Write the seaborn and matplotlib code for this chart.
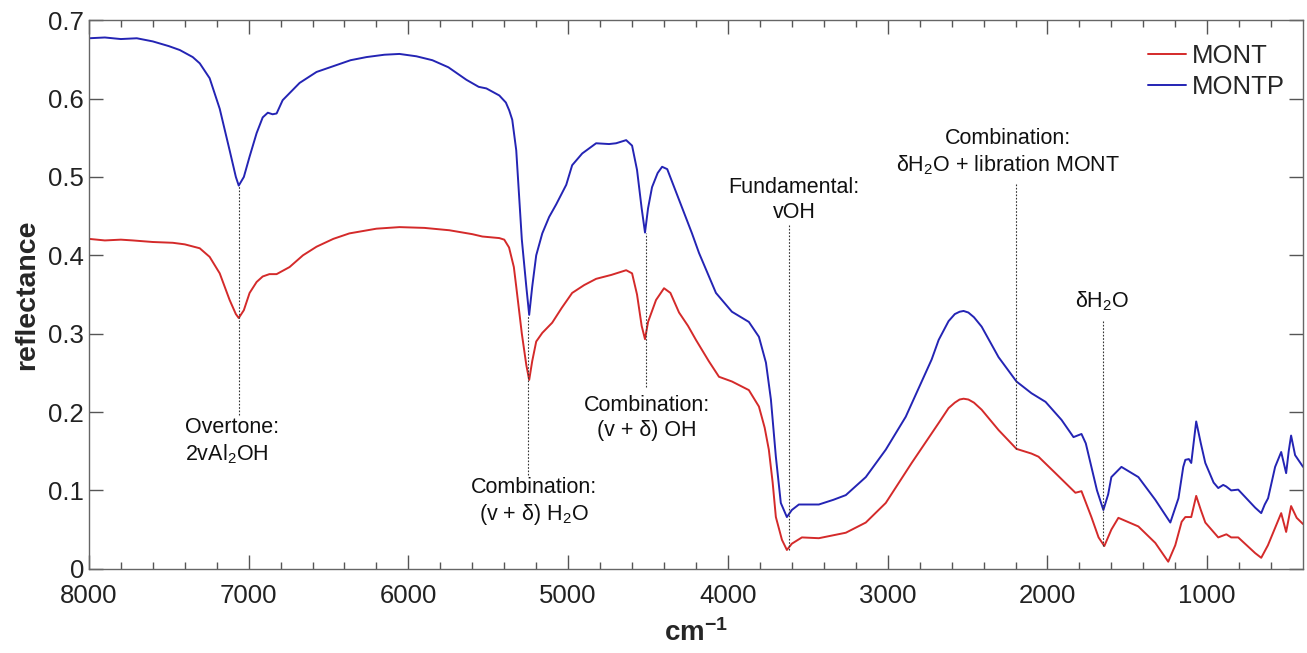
import numpy as np
import pandas as pd
import matplotlib
matplotlib.use("Agg")
import matplotlib.pyplot as plt
import seaborn as sns

# MONTP (blue) spectrum
montp_wn = [8000, 7900, 7800, 7700, 7600, 7500, 7431, 7350, 7306, 7244, 7181, 7119, 7080, 7062,
            7030, 6994, 6950, 6912, 6880, 6850, 6825, 6787, 6681, 6575, 6475, 6362, 6262, 6150,
            6056, 5950, 5850, 5750, 5637, 5560, 5512, 5431, 5390, 5369, 5350, 5325, 5290, 5262,
            5244, 5225, 5200, 5162, 5119, 5075, 5012, 4975, 4912, 4825, 4744, 4700, 4637, 4600,
            4569, 4540, 4519, 4500, 4475, 4440, 4412, 4380, 4306, 4225, 4181, 4075, 3975, 3869,
            3806, 3762, 3731, 3700, 3669, 3631, 3600, 3556, 3431, 3340, 3262, 3137, 3012, 2887,
            2725, 2681, 2619, 2580, 2550, 2525, 2495, 2460, 2412, 2306, 2194, 2100, 2012, 1912,
            1837, 1787, 1760, 1725, 1690, 1650, 1620, 1600, 1537, 1431, 1325, 1231, 1180, 1150,
            1137, 1115, 1100, 1069, 1040, 1012, 960, 931, 900, 881, 850, 806, 700, 662, 640, 619,
            575, 537, 506, 490, 475, 450, 400]
montp_r = [0.677, 0.678, 0.676, 0.677, 0.673, 0.667, 0.662, 0.653, 0.645, 0.626, 0.587, 0.534,
           0.500, 0.489, 0.500, 0.526, 0.556, 0.576, 0.582, 0.580, 0.581, 0.598, 0.620, 0.634,
           0.641, 0.649, 0.653, 0.656, 0.657, 0.654, 0.649, 0.640, 0.624, 0.615, 0.613, 0.604,
           0.595, 0.585, 0.573, 0.534, 0.420, 0.360, 0.324, 0.360, 0.400, 0.428, 0.449, 0.465,
           0.490, 0.515, 0.530, 0.543, 0.542, 0.543, 0.547, 0.540, 0.509, 0.460, 0.429, 0.460,
           0.487, 0.505, 0.513, 0.510, 0.471, 0.428, 0.403, 0.352, 0.328, 0.315, 0.296, 0.263,
           0.216, 0.143, 0.084, 0.066, 0.075, 0.082, 0.082, 0.088, 0.094, 0.117, 0.152, 0.194,
           0.267, 0.292, 0.316, 0.325, 0.328, 0.329, 0.327, 0.321, 0.309, 0.270, 0.239, 0.224,
           0.213, 0.190, 0.168, 0.172, 0.160, 0.130, 0.100, 0.075, 0.095, 0.117, 0.130, 0.117,
           0.088, 0.059, 0.090, 0.130, 0.139, 0.140, 0.135, 0.188, 0.160, 0.135, 0.110, 0.103,
           0.107, 0.105, 0.100, 0.101, 0.078, 0.071, 0.082, 0.090, 0.130, 0.149, 0.122, 0.150,
           0.170, 0.145, 0.130]

# MONT (red) spectrum
mont_wn = [8000, 7900, 7800, 7725, 7600, 7475, 7400, 7306, 7244, 7181, 7119, 7080, 7062, 7030,
           6994, 6950, 6912, 6870, 6825, 6744, 6660, 6575, 6470, 6369, 6200, 6056, 5900, 5744,
           5600, 5537, 5431, 5400, 5370, 5340, 5325, 5290, 5262, 5244, 5225, 5200, 5162, 5100,
           5040, 4975, 4900, 4825, 4730, 4637, 4600, 4569, 4540, 4519, 4500, 4450, 4400, 4360,
           4306, 4250, 4200, 4120, 4056, 3975, 3869, 3806, 3770, 3744, 3720, 3700, 3662, 3631,
           3600, 3537, 3431, 3262, 3137, 3012, 2850, 2681, 2619, 2580, 2550, 2525, 2495, 2460,
           2412, 2306, 2194, 2100, 2056, 1950, 1825, 1787, 1725, 1680, 1644, 1600, 1556, 1431,
           1325, 1244, 1200, 1160, 1137, 1100, 1069, 1040, 1012, 931, 880, 850, 806, 700, 662,
           620, 537, 506, 475, 440, 400]
mont_r = [0.421, 0.419, 0.420, 0.419, 0.417, 0.416, 0.414, 0.409, 0.398, 0.377, 0.343, 0.325,
          0.320, 0.330, 0.352, 0.366, 0.373, 0.376, 0.376, 0.385, 0.400, 0.411, 0.421, 0.428,
          0.434, 0.436, 0.435, 0.432, 0.427, 0.424, 0.422, 0.420, 0.410, 0.385, 0.360, 0.300,
          0.260, 0.241, 0.265, 0.290, 0.301, 0.314, 0.333, 0.352, 0.362, 0.370, 0.375, 0.381,
          0.377, 0.350, 0.310, 0.293, 0.315, 0.343, 0.358, 0.352, 0.327, 0.310, 0.292, 0.265,
          0.245, 0.239, 0.228, 0.207, 0.180, 0.152, 0.110, 0.066, 0.037, 0.024, 0.032, 0.040,
          0.039, 0.046, 0.059, 0.084, 0.135, 0.186, 0.205, 0.212, 0.216, 0.217, 0.216, 0.212,
          0.203, 0.177, 0.153, 0.147, 0.143, 0.122, 0.097, 0.099, 0.066, 0.040, 0.029, 0.050,
          0.065, 0.054, 0.033, 0.009, 0.030, 0.060, 0.066, 0.066, 0.093, 0.075, 0.059, 0.040,
          0.044, 0.040, 0.040, 0.020, 0.014, 0.030, 0.071, 0.047, 0.080, 0.065, 0.057]

# band annotations: label, text x, text y, line x, line bottom, line top, alignment
ann_labels = ["Overtone:\n2vAl$_2$OH",
              "Combination:\n(v + δ) H$_2$O",
              "Combination:\n(v + δ) OH",
              "Fundamental:\nvOH",
              "Combination:\nδH$_2$O + libration MONT",
              "δH$_2$O"]
ann_tx = [7400, 5212, 4506, 3587, 2244, 1656]
ann_ty = [0.162, 0.085, 0.193, 0.471, 0.531, 0.341]
ann_lx = [7062, 5250, 4515, 3620, 2200, 1650]
ann_y0 = [0.196, 0.120, 0.232, 0.024, 0.153, 0.029]
ann_y1 = [0.489, 0.324, 0.429, 0.440, 0.491, 0.318]
ann_ha = ["left", "center", "center", "center", "center", "center"]

df = pd.concat([
    pd.DataFrame({"wn": mont_wn, "r": mont_r, "sample": "MONT"}),
    pd.DataFrame({"wn": montp_wn, "r": montp_r, "sample": "MONTP"}),
])

sns.set_style("ticks")
plt.rcParams["font.family"] = ["Liberation Sans", "DejaVu Sans"]
plt.rcParams["mathtext.fontset"] = "custom"
plt.rcParams["mathtext.rm"] = "Liberation Sans"
plt.rcParams["mathtext.it"] = "Liberation Sans:italic"
plt.rcParams["mathtext.bf"] = "Liberation Sans:bold"

fig = plt.figure(figsize=(13.07, 6.53), dpi=100)
ax = fig.add_axes([0.068, 0.129, 0.929, 0.840])

sns.lineplot(data=df, x="wn", y="r", hue="sample", estimator=None, sort=False,
             palette={"MONT": "#d42a2a", "MONTP": "#2424b4"}, linewidth=1.4, ax=ax)

for lab, tx, ty, lx, y0, y1, ha in zip(ann_labels, ann_tx, ann_ty, ann_lx, ann_y0, ann_y1, ann_ha):
    ax.plot([lx, lx], [y0, y1], ls=(0, (1.5, 1.5)), color="#333333", lw=0.8)
    ax.text(tx, ty, lab, ha=ha, va="center", fontsize=15.5, color="#111111",
            multialignment=ha, linespacing=1.25)

ax.set_xlim(8000, 400)
ax.set_ylim(0, 0.7)
ax.set_xticks([8000, 7000, 6000, 5000, 4000, 3000, 2000, 1000])
ax.set_xticks(np.arange(7800, 400, -200), minor=True)
ax.set_yticks(np.arange(0, 0.71, 0.1))
ax.set_yticklabels(["0", "0.1", "0.2", "0.3", "0.4", "0.5", "0.6", "0.7"])
ax.tick_params(which="both", direction="in", top=True, right=True, labelsize=18.5,
               colors="#555555", labelcolor="#222222", width=1)
ax.tick_params(which="major", length=10)
ax.tick_params(which="minor", length=5)
ax.tick_params(axis="x", pad=11)
for s in ax.spines.values():
    s.set_color("#666666")
    s.set_linewidth(1)

ax.set_xlabel("cm$^{\\mathbf{-1}}$", fontsize=20, fontweight="bold", labelpad=8)
ax.set_ylabel("reflectance", fontsize=20.5, fontweight="bold", labelpad=6)

leg = ax.legend(loc="upper right", frameon=False, fontsize=18.5, handlelength=1.45,
                handletextpad=0.25, labelspacing=0.3, borderaxespad=0.3,
                bbox_to_anchor=(1.0, 0.99))
for h in leg.get_lines():
    h.set_linewidth(1.4)

fig.savefig("out.png", dpi=100)
